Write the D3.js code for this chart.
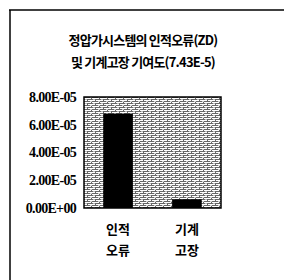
<!DOCTYPE html>
<meta charset="utf-8">
<style>
  body { margin: 0; background: #fff; }
  svg text { fill: #000; }
</style>
<svg width="284" height="280"></svg>
<script src="https://cdn.jsdelivr.net/npm/d3@7"></script>
<script>
  // data
  var categories = [["인적", "오류"], ["기계", "고장"]];
  var values = [6.8e-5, 0.63e-5];
  var tickValues = [0, 2e-5, 4e-5, 6e-5, 8e-5];
  var tickLabels = ["0.00E+00", "2.00E-05", "4.00E-05", "6.00E-05", "8.00E-05"];
  var titleLines = ["정압가시스템의 인적오류(ZD)", "및 기계고장 기여도(7.43E-5)"];

  var svg = d3.select("svg");

  // brick fill for plot area: white bricks, dark mortar
  var pat = svg.append("defs").append("pattern")
    .attr("id", "brick")
    .attr("patternUnits", "userSpaceOnUse")
    .attr("width", 8).attr("height", 4);
  pat.append("rect").attr("width", 8).attr("height", 4).attr("fill", "#666");
  pat.append("rect").attr("x", 0).attr("y", 0).attr("width", 7).attr("height", 1).attr("fill", "#fff");
  pat.append("rect").attr("x", 4).attr("y", 2).attr("width", 4).attr("height", 1).attr("fill", "#fff");
  pat.append("rect").attr("x", 0).attr("y", 2).attr("width", 3).attr("height", 1).attr("fill", "#fff");
  pat.append("rect").attr("x", 2).attr("y", 1).attr("width", 2).attr("height", 1).attr("fill", "#ccc");
  pat.append("rect").attr("x", 5).attr("y", 3).attr("width", 2).attr("height", 1).attr("fill", "#bbb");

  // outer frame: top and left only
  svg.append("line").attr("x1", 9).attr("x2", 284).attr("y1", 10).attr("y2", 10)
    .attr("stroke", "#000").attr("stroke-width", 1.5);
  svg.append("line").attr("x1", 10).attr("x2", 10).attr("y1", 10).attr("y2", 280)
    .attr("stroke", "#000").attr("stroke-width", 1.5);

  // title
  svg.selectAll(".title").data(titleLines).enter().append("text")
    .attr("x", 143).attr("y", function(d, i) { return 45 + i * 22; })
    .attr("text-anchor", "middle")
    .style("font-family", "'Noto Sans CJK KR'")
    .style("font-weight", "bold")
    .style("font-size", "13px")
    .style("letter-spacing", "-0.8px")
    .text(function(d) { return d; });

  var pLeft = 84, pRight = 221, pTop = 97, pBottom = 208;

  var x = d3.scaleBand().domain([0, 1]).range([pLeft, pRight]).paddingInner(0.57).paddingOuter(0.28);
  var y = d3.scaleLinear().domain([0, 8e-5]).range([pBottom, pTop]);

  svg.append("rect")
    .attr("x", pLeft).attr("y", pTop)
    .attr("width", pRight - pLeft).attr("height", pBottom - pTop)
    .attr("fill", "url(#brick)");

  svg.selectAll(".bar").data(values).enter().append("rect")
    .attr("x", function(d, i) { return x(i); })
    .attr("y", function(d) { return y(d); })
    .attr("width", x.bandwidth())
    .attr("height", function(d) { return pBottom - y(d); })
    .attr("fill", "#000");

  svg.append("rect")
    .attr("x", pLeft).attr("y", pTop)
    .attr("width", pRight - pLeft).attr("height", pBottom - pTop)
    .attr("fill", "none").attr("stroke", "#000").attr("stroke-width", 1.5);

  // y axis labels
  var yAxis = d3.axisLeft(y).tickValues(tickValues)
    .tickFormat(function(d, i) { return tickLabels[i]; })
    .tickSize(0).tickPadding(8);
  var ga = svg.append("g").attr("transform", "translate(" + pLeft + ",0)").call(yAxis);
  ga.select(".domain").remove();
  ga.selectAll("text")
    .style("font-family", "'Liberation Serif'")
    .style("font-weight", "bold")
    .style("font-size", "14px")
    .style("letter-spacing", "-0.7px")
    .attr("fill", "#000");

  // category labels
  var cat = svg.selectAll(".cat").data(categories).enter().append("text")
    .attr("text-anchor", "middle")
    .style("font-family", "'Noto Sans CJK KR'")
    .style("font-weight", "bold")
    .style("font-size", "13px");
  cat.selectAll("tspan").data(function(d, i) { return d.map(function(s) { return [s, i]; }); })
    .enter().append("tspan")
    .attr("x", function(d) { return x(d[1]) + x.bandwidth() / 2; })
    .attr("y", function(d, j) { return 234 + j * 21; })
    .text(function(d) { return d[0]; });
</script>
